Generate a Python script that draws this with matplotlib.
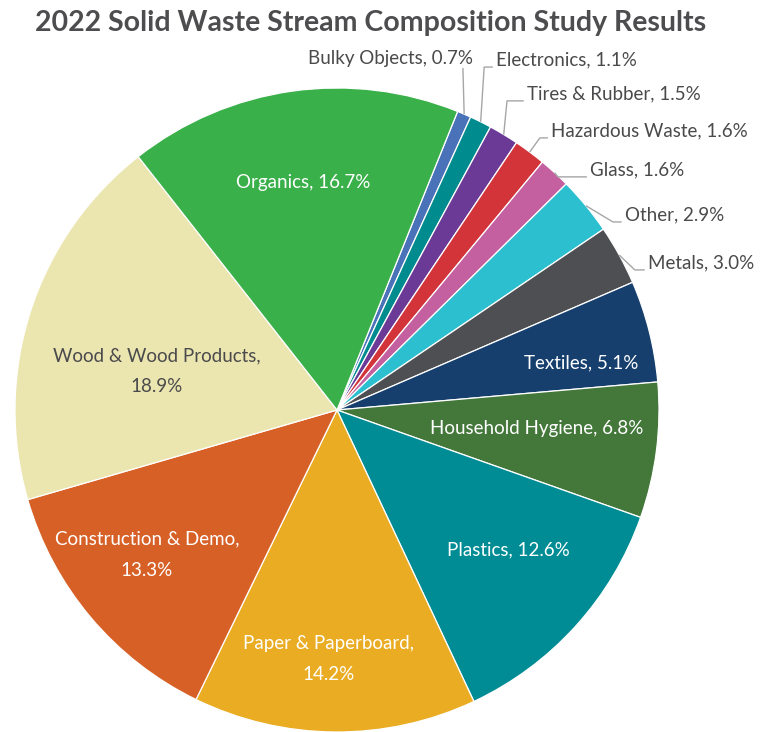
import matplotlib.pyplot as plt
import numpy as np

# waste stream composition, clockwise from the top
categories = ["Bulky Objects", "Electronics", "Tires & Rubber", "Hazardous Waste",
              "Glass", "Other", "Metals", "Textiles", "Household Hygiene",
              "Plastics", "Paper & Paperboard", "Construction & Demo",
              "Wood & Wood Products", "Organics"]
percents = [0.7, 1.1, 1.5, 1.6, 1.6, 2.9, 3.0, 5.1, 6.8, 12.6, 14.2, 13.3, 18.9, 16.7]
colors = ["#4a72b8", "#008b8f", "#6a3a96", "#d2343a", "#c4609f", "#2bbfd0",
          "#4d4f53", "#173f6e", "#43783a", "#008c95", "#e9ac23", "#d76027",
          "#ebe5b0", "#3ab04a"]

plt.rcParams['font.family'] = ['Lato', 'DejaVu Sans']

fig = plt.figure(figsize=(7.64, 7.32), dpi=100)
ax = fig.add_axes([0, 0, 1, 1])

wedges, _ = ax.pie(percents, colors=colors, startangle=68, counterclock=False,
                   wedgeprops=dict(edgecolor='white', linewidth=0.9))
ax.set_xlim(-337 / 322, 427 / 322)
ax.set_ylim(-322 / 322, 410 / 322)
ax.set_aspect('auto')
ax.axis('off')

gray = '#4a4a4c'
fs = 13.5

# labels inside the big slices: (x, y, colour, split over two lines)
inside = {
    "Organics": (-0.106, 0.708, 'white', False),
    "Wood & Wood Products": (-0.559, 0.121, gray, True),
    "Construction & Demo": (-0.590, -0.449, 'white', True),
    "Paper & Paperboard": (-0.025, -0.773, 'white', True),
    "Plastics": (0.531, -0.435, 'white', False),
    "Household Hygiene": (0.621, -0.059, 'white', False),
    "Textiles": (0.758, 0.146, 'white', False),
}

# outside labels: elbow of the leader line, text x, alignment
outside = {
    "Bulky Objects": ((0.391, 1.062), 0.422, 'right'),
    "Electronics": ((0.457, 1.065), 0.494, 'left'),
    "Tires & Rubber": ((0.528, 0.960), 0.590, 'left'),
    "Hazardous Waste": ((0.630, 0.845), 0.665, 'left'),
    "Glass": ((0.686, 0.724), 0.786, 'left'),
    "Other": ((0.857, 0.584), 0.894, 'left'),
    "Metals": ((0.925, 0.435), 0.966, 'left'),
}

for w, name, pct in zip(wedges, categories, percents):
    if name in inside:
        x, y, c, two_lines = inside[name]
        sep = ",\n" if two_lines else ", "
        ax.text(x, y, f"{name}{sep}{pct:.1f}%", ha='center', va='center',
                color=c, fontsize=fs, linespacing=2.0)
    else:
        (ex, ey), tx, ha = outside[name]
        mid = np.deg2rad((w.theta1 + w.theta2) / 2)
        px, py = np.cos(mid), np.sin(mid)
        if ha == 'left':
            xs = [px, ex, tx - 0.01]
            ys = [py, ey, ey]
            ty = ey + 0.006
        else:
            xs = [px, ex]
            ys = [py, ey]
            ty = ey + 0.012
        ax.plot(xs, ys, color='#a6a6a6', lw=1, solid_capstyle='butt')
        ax.text(tx, ty, f"{name}, {pct:.1f}%", ha=ha, va='baseline',
                color=gray, fontsize=fs)

fig.text(0.485, 0.968, "2022 Solid Waste Stream Composition Study Results",
         ha='center', va='center', fontsize=20.5, fontweight='bold', color='#4d4d4f')

fig.savefig('out.png', dpi=100)
